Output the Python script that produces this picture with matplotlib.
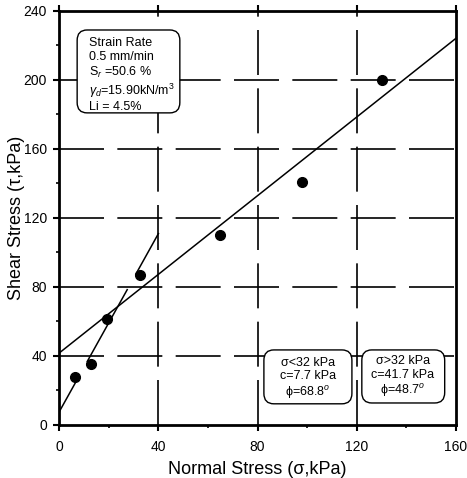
import numpy as np
import matplotlib
matplotlib.use("Agg")
import matplotlib.pyplot as plt
from matplotlib.patches import FancyBboxPatch

plt.rcParams['font.family'] = ['Liberation Sans', 'DejaVu Sans']
plt.rcParams['mathtext.fontset'] = 'custom'
plt.rcParams['mathtext.rm'] = 'Liberation Sans'
plt.rcParams['mathtext.it'] = 'Liberation Sans:italic'

# measured points (normal stress, shear stress), kPa
sigma = [6.5, 12.6, 19.1, 32.5, 65.0, 98.0, 130.4]
tau = [27.6, 35.1, 61.2, 86.7, 109.9, 140.9, 199.8]

# failure envelopes
c_low, phi_low = 7.7, 68.8     # sigma < 32 kPa
c_high, phi_high = 41.7, 48.7  # sigma > 32 kPa
# visible pieces of the low envelope (broken around the dots)
low_segments = [(0, 6.5), (11.3, 27.4), (30.9, 40)]
high_range = (0, 160)

xticks = [0, 40, 80, 120, 160]
yticks = [0, 40, 80, 120, 160, 200, 240]

info_text = ("Strain Rate\n0.5 mm/min\nS$_r$ =50.6 %\n"
             "$\\gamma_d$=15.90kN/m$^3$\nLi = 4.5%")
low_text = "\u03c3<32 kPa\nc=7.7 kPa\n\u03d5=68.8$^o$"
high_text = "\u03c3>32 kPa\nc=41.7 kPa\n\u03d5=48.7$^o$"

fig = plt.figure(figsize=(4.67, 4.78), dpi=100)
ax = fig.add_axes([0.127, 0.111, 0.849, 0.867])

# grid
dash = (0, (27, 8))
for gx in xticks[1:-1]:
    ax.axvline(gx, color='black', lw=1.2, ls=dash, zorder=1)
for gy in yticks[1:-1]:
    ax.axhline(gy, color='black', lw=1.2, ls=dash, zorder=1)

# envelopes
xh = np.array(high_range, dtype=float)
ax.plot(xh, c_high + np.tan(np.radians(phi_high)) * xh, color='black', lw=1.1, zorder=3)
for x0, x1 in low_segments:
    xs = np.array([x0, x1])
    ax.plot(xs, c_low + np.tan(np.radians(phi_low)) * xs, color='black', lw=1.1, zorder=3)

ax.plot(sigma, tau, 'o', color='black', ms=7, zorder=4)

# text boxes
def box(x0, y0, x1, y1, text, tx, ty, ha):
    p = FancyBboxPatch((x0, y0), x1 - x0, y1 - y0, transform=ax.transAxes,
                       boxstyle="round,pad=0,rounding_size=0.025",
                       facecolor='white', edgecolor='black', lw=1.0, zorder=5)
    ax.add_patch(p)
    ax.text(tx, ty, text, transform=ax.transAxes, ha=ha, va='top',
            fontsize=9, linespacing=1.15, zorder=6)

box(0.045, 0.753, 0.304, 0.953, info_text, 0.075, 0.935, 'left')
box(0.516, 0.051, 0.738, 0.181, low_text, 0.627, 0.165, 'center')
box(0.763, 0.053, 0.972, 0.181, high_text, 0.867, 0.168, 'center')

ax.set_xlim(0, 160)
ax.set_ylim(0, 240)
ax.set_xticks(xticks)
ax.set_yticks(yticks)
ax.set_xticks(np.arange(20, 160, 40), minor=True)
ax.set_yticks(np.arange(20, 240, 40), minor=True)
ax.tick_params(which='major', direction='out', length=4, width=1.5, labelsize=10)
ax.tick_params(axis='x', which='major', pad=7)
ax.tick_params(axis='y', which='major', pad=5)
ax.tick_params(which='minor', direction='out', length=2.5, width=1.2)
ax.tick_params(which='major', top=True)
for s in ax.spines.values():
    s.set_linewidth(2)

ax.set_xlabel("Normal Stress (\u03c3,kPa)", fontsize=13, labelpad=5)
ax.set_ylabel("Shear Stress (\u03c4,kPa)", fontsize=13, labelpad=-1)

fig.savefig("out.png", dpi=100)
